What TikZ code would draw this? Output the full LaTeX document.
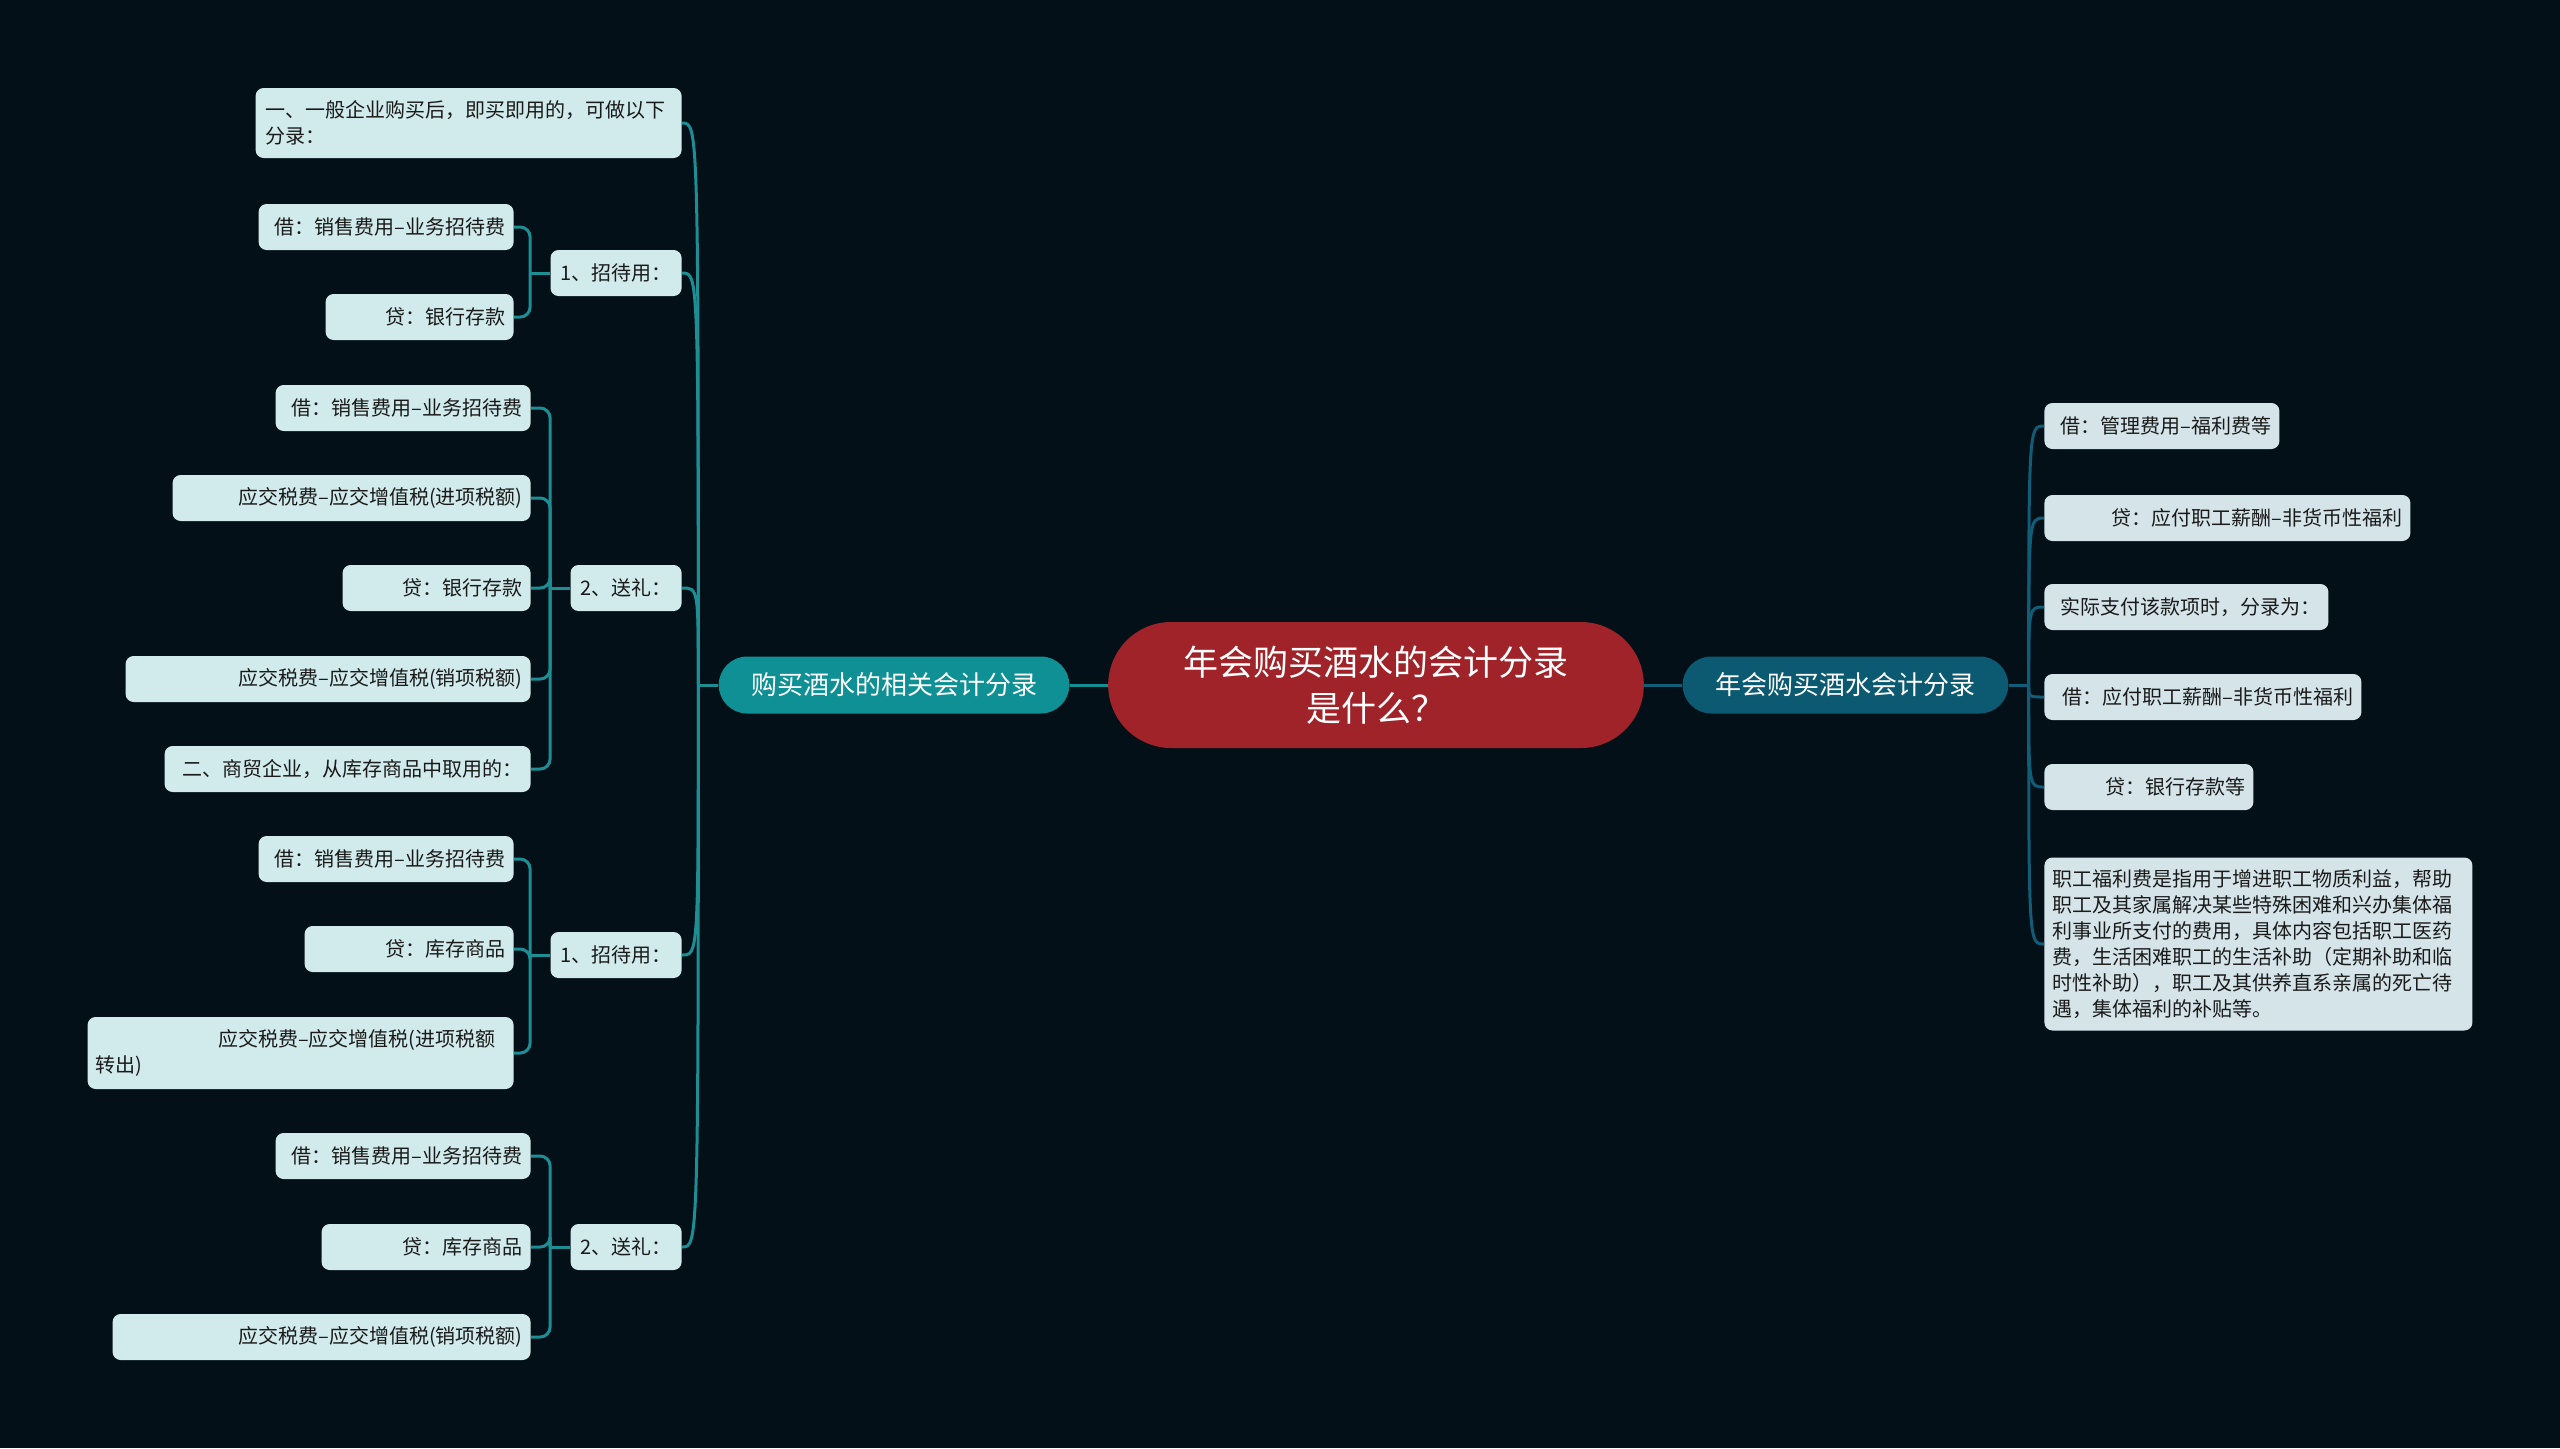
\documentclass[tikz,border=0pt]{standalone}
\usepackage{fontspec}
\setmainfont{Noto Sans CJK SC}
\usetikzlibrary{positioning, shapes.misc}

\begin{document}
\begin{tikzpicture}[
    x=0.5pt, y=-0.5pt,
    font=\fontsize{10}{13}\selectfont,
    rootnode/.style={
        rounded rectangle, fill=rootred, text=white, align=center,
        minimum width=274.5pt, minimum height=63pt,
        font=\fontsize{17.5}{23}\selectfont
    },
    topic/.style n args={2}{
        rounded rectangle, fill=#1, text=white,
        minimum width=#2, minimum height=28.5pt,
        font=\fontsize{13}{16}\selectfont
    },
    branch/.style={
        rectangle, rounded corners=4pt, fill=lfill, text=ink,
        inner xsep=5pt, minimum height=23pt, anchor=east
    },
    lleaf/.style={
        rectangle, rounded corners=4pt, fill=lfill, text=ink,
        inner xsep=4pt, minimum height=23pt, anchor=east,
        align=right, text width=#1
    },
    rleaf/.style={
        rectangle, rounded corners=4pt, fill=rfill, text=ink,
        inner xsep=4pt, minimum height=23pt, anchor=west,
        align=right, text width=#1
    },
    link/.style={line width=1.5pt, draw=#1},
    bracket/.style={line width=1.5pt, draw=lteal, rounded corners=5pt},
]

\definecolor{bgdark}{RGB}{3,16,24}
\definecolor{rootred}{RGB}{159,35,41}
\definecolor{ltopic}{RGB}{14,144,148}
\definecolor{rtopic}{RGB}{11,90,113}
\definecolor{lteal}{RGB}{29,142,147}
\definecolor{rteal}{RGB}{17,92,118}
\definecolor{lfill}{RGB}{209,234,235}
\definecolor{rfill}{RGB}{212,228,233}
\definecolor{ink}{RGB}{26,26,26}

\fill[bgdark] (0,0) rectangle (2560,1448);
\useasboundingbox (0,0) rectangle (2560,1448);

% ============================================================
% Centre
% ============================================================

\node[rootnode] (root) at (1376,685) {年会购买酒水的会计分录\\是什么？};
\node[topic={ltopic}{182pt}, left=19pt of root] (buy) {购买酒水的相关会计分录};
\node[topic={rtopic}{169.5pt}, right=19pt of root] (party) {年会购买酒水会计分录};

\draw[link=ltopic] (root.west) -- (buy.east);
\draw[link=rteal] (root.east) -- (party.west);

% ============================================================
% Left side
% ============================================================

\node[branch, align=left, text width=203pt, minimum height=35pt] (gen) at (682,123)
    {一、一般企业购买后，即买即用的，可做以下\\分录：};
\node[branch] (treat1) at (682,273) {1、招待用：};
\node[branch] (gift1)  at (682,588) {2、送礼：};
\node[branch] (treat2) at (682,955) {1、招待用：};
\node[branch] (gift2)  at (682,1247) {2、送礼：};

\node[lleaf=119.5pt] (t1a) at (514,227) {借：销售费用–业务招待费};
\node[lleaf=86pt]    (t1b) at (514,317) {贷：银行存款};

\node[lleaf=119.5pt] (g1a) at (531,408) {借：销售费用–业务招待费};
\node[lleaf=171pt]   (g1b) at (531,498) {应交税费–应交增值税(进项税额)};
\node[lleaf=86pt]    (g1c) at (531,588) {贷：银行存款};
\node[lleaf=194.5pt] (g1d) at (531,679) {应交税费–应交增值税(销项税额)};
\node[lleaf=175pt]   (g1e) at (531,769) {二、商贸企业，从库存商品中取用的：};

\node[lleaf=119.5pt] (t2a) at (514,859) {借：销售费用–业务招待费};
\node[lleaf=96.5pt]  (t2b) at (514,949) {贷：库存商品};
\node[lleaf=205pt, align=left, minimum height=36pt] (t2c) at (514,1053)
    {\hfill 应交税费–应交增值税(进项税额\kern5pt\\转出)};

\node[lleaf=119.5pt] (g2a) at (531,1156) {借：销售费用–业务招待费};
\node[lleaf=96.5pt]  (g2b) at (531,1247) {贷：库存商品};
\node[lleaf=201pt]   (g2c) at (531,1337) {应交税费–应交增值税(销项税额)};

\coordinate (buyhub) at ([xshift=-10pt]buy.west);
\draw[link=lteal] (buy.west) -- (buyhub);
\foreach \k in {gen,treat1,gift1,treat2,gift2}
    \draw[link=lteal] (buyhub) .. controls (buyhub |- \k.east) .. (\k.east);

\foreach \p/\kids in {treat1/{t1a,t1b}, gift1/{g1a,g1b,g1c,g1d,g1e},
                      treat2/{t2a,t2b,t2c}, gift2/{g2a,g2b,g2c}} {
    \draw[bracket] (\p.west) -- ++(-10pt,0) coordinate (hub);
    \foreach \c in \kids
        \draw[bracket] (hub) |- (\c.east);
}

% ============================================================
% Right side
% ============================================================

\node[rleaf=109.5pt] (w1) at (2044,426) {借：管理费用–福利费等};
\node[rleaf=175pt]   (w2) at (2044,518) {贷：应付职工薪酬–非货币性福利};
\node[rleaf=134pt]   (w3) at (2044,607) {实际支付该款项时，分录为：};
\node[rleaf=150.5pt] (w4) at (2044,697) {借：应付职工薪酬–非货币性福利};
\node[rleaf=96.5pt]  (w5) at (2044,787) {贷：银行存款等};
\node[rleaf=206pt, align=left, inner ysep=6pt] (w6) at (2044,944)
    {职工福利费是指用于增进职工物质利益，帮助\\
     职工及其家属解决某些特殊困难和兴办集体福\\
     利事业所支付的费用，具体内容包括职工医药\\
     费，生活困难职工的生活补助（定期补助和临\\
     时性补助），职工及其供养直系亲属的死亡待\\
     遇，集体福利的补贴等。};

\coordinate (partyhub) at ([xshift=10pt]party.east);
\draw[link=rteal] (party.east) -- (partyhub);
\foreach \k in {w1,w2,w3,w4,w5,w6}
    \draw[link=rteal] (partyhub) .. controls (partyhub |- \k.west) .. (\k.west);

\end{tikzpicture}
\end{document}
